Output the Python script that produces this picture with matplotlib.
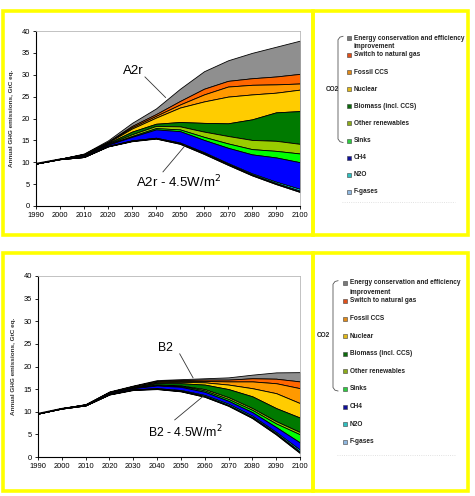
"""
    GHG emission wedges, A2r and B2 scenarios
"""

import matplotlib
matplotlib.use('Agg')
import matplotlib.pyplot as plt
from matplotlib.patches import Rectangle

plt.rcParams['font.family'] = ['Liberation Sans', 'DejaVu Sans']

years = [1990, 2000, 2010, 2020, 2030, 2040, 2050, 2060, 2070, 2080, 2090, 2100]

# A2r - cumulative upper edge of each wedge, GtC eq.
a2r_base = [9.7, 10.7, 11.2, 13.6, 14.8, 15.4, 14.2, 11.9, 9.4, 7.0, 5.0, 3.2]
a2r_fgas = [9.7, 10.7, 11.2, 13.65, 14.9, 15.5, 14.35, 12.1, 9.6, 7.2, 5.25, 3.5]
a2r_n2o = [9.7, 10.7, 11.2, 13.7, 15.0, 15.6, 14.5, 12.3, 9.8, 7.45, 5.55, 3.9]
a2r_ch4 = [9.7, 10.75, 11.5, 14.0, 15.8, 17.5, 17.1, 15.1, 13.3, 11.8, 11.1, 10.0]
a2r_sinks = [9.7, 10.75, 11.55, 14.1, 16.0, 17.8, 17.5, 15.8, 14.3, 13.0, 12.6, 12.0]
a2r_renew = [9.7, 10.75, 11.6, 14.2, 16.4, 18.3, 18.2, 17.0, 16.0, 15.1, 14.9, 14.2]
a2r_bio = [9.7, 10.8, 11.7, 14.35, 17.0, 18.8, 19.2, 19.0, 18.9, 19.8, 21.4, 21.7]
a2r_nuc = [9.7, 10.8, 11.8, 14.5, 17.7, 20.2, 22.5, 23.9, 25.0, 25.5, 25.9, 26.6]
a2r_ccs = [9.7, 10.8, 11.85, 14.6, 18.0, 20.6, 23.2, 25.5, 27.3, 27.7, 27.8, 28.0]
a2r_gas = [9.7, 10.8, 11.9, 14.7, 18.3, 21.0, 24.0, 26.8, 28.6, 29.2, 29.6, 30.2]
a2r_top = [9.7, 10.8, 12.0, 15.0, 19.0, 22.3, 26.8, 30.8, 33.3, 35.0, 36.4, 37.8]

# B2
b2_base = [9.6, 10.7, 11.4, 13.8, 14.8, 15.0, 14.5, 13.3, 11.3, 8.6, 5.0, 0.9]
b2_fgas = [9.6, 10.7, 11.4, 13.85, 14.9, 15.1, 14.6, 13.45, 11.45, 8.8, 5.2, 1.2]
b2_n2o = [9.6, 10.7, 11.4, 13.9, 14.95, 15.2, 14.8, 13.7, 11.75, 9.1, 5.5, 1.6]
b2_ch4 = [9.6, 10.75, 11.5, 14.1, 15.2, 15.8, 15.5, 14.4, 12.4, 9.9, 6.6, 3.2]
b2_sinks = [9.6, 10.75, 11.5, 14.15, 15.25, 15.9, 15.7, 14.7, 12.8, 10.4, 7.4, 5.0]
b2_renew = [9.6, 10.75, 11.55, 14.2, 15.3, 16.0, 15.8, 15.0, 13.2, 10.8, 7.9, 5.5]
b2_bio = [9.6, 10.8, 11.6, 14.25, 15.4, 16.3, 16.3, 16.0, 15.0, 13.4, 10.8, 8.7]
b2_nuc = [9.6, 10.8, 11.6, 14.3, 15.55, 16.5, 16.6, 16.5, 16.0, 15.2, 14.1, 11.9]
b2_ccs = [9.6, 10.8, 11.65, 14.35, 15.65, 16.7, 16.8, 16.8, 16.7, 16.7, 16.3, 15.2]
b2_gas = [9.6, 10.8, 11.65, 14.4, 15.7, 16.8, 17.0, 17.1, 17.1, 17.4, 17.3, 16.7]
b2_top = [9.6, 10.8, 11.7, 14.5, 15.8, 17.0, 17.2, 17.4, 17.6, 18.2, 18.7, 18.75]

legend_labels = ['Energy conservation and efficiency', 'Switch to natural gas', 'Fossil CCS',
                 'Nuclear', 'Biomass (incl. CCS)', 'Other renewables', 'Sinks',
                 'CH4', 'N2O', 'F-gases']
fill_colors = ['#8f8f8f', '#ff6600', '#ff9900', '#ffcc00', '#007a00', '#99cc00', '#00ff00',
               '#0000ff', '#00ffff', '#99ccff']
legend_colors = ['#7a7a7a', '#e0501a', '#e08a1a', '#e0b81a', '#0b6b0b', '#8cab1a', '#2ecc40',
                 '#10109a', '#30c0c0', '#90b8e0']

fig = plt.figure(figsize=(4.75, 4.96), dpi=100)

# background layer in pixel coordinates (frames + legend)
bg = fig.add_axes([0, 0, 1, 1])
bg.set_xlim(0, 475)
bg.set_ylim(496, 0)
bg.axis('off')

for (x0, y0, x1, y1) in [(3, 11, 313, 235), (313, 11, 468, 235),
                         (3, 253, 313, 491), (313, 253, 468, 491)]:
    bg.add_patch(Rectangle((x0, y0), x1 - x0, y1 - y0, fill=False,
                           edgecolor='#ffff00', lw=2.6))


def legend_block(mx, y_first, y_second, step, co2_x, brace_x, dots_y):
    ys = [y_first] + [y_second + i * step for i in range(len(legend_labels) - 1)]
    for lab, col, y in zip(legend_labels, legend_colors, ys):
        bg.add_patch(Rectangle((mx - 2, y - 2), 4, 4, facecolor=col,
                               edgecolor='#404040', lw=0.4))
        bg.text(mx + 4.5, y, lab, fontsize=4.7, fontweight='bold', color='#222222',
                va='center', ha='left')
    bg.text(mx + 4.5, (y_first + y_second) / 2 + 0.3, 'improvement', fontsize=4.7,
            fontweight='bold', color='#222222', va='center', ha='left')
    top, bot = ys[0] - 2, ys[6] + 2
    bg.plot([brace_x + 5, brace_x + 2, brace_x, brace_x, brace_x + 2, brace_x + 5],
            [top, top + 0.8, top + 3.5, bot - 3.5, bot - 0.8, bot],
            color='#555555', lw=0.6)
    bg.text(co2_x, (top + bot) / 2, 'CO2', fontsize=4.7, fontweight='bold',
            color='#222222', va='center', ha='left')
    bg.plot([brace_x + 4, 455], [dots_y, dots_y], color='#d8d8d8', lw=0.6, ls=':')


legend_block(349, 38.3, 55, 17.1, 326, 338, 202)
legend_block(345, 282.7, 301, 17.6, 317, 333, 455)


def wedge_chart(rect, bounds, labels, fs):
    ax = fig.add_axes(rect)
    layers = bounds[::-1]  # from top edge down
    for i in range(len(layers) - 1):
        ax.fill_between(years, layers[i + 1], layers[i], facecolor=fill_colors[i],
                        edgecolor='black', lw=0.6)
    ax.plot(years, bounds[0], color='black', lw=1.0)
    ax.set_xlim(1990, 2100)
    ax.set_ylim(0, 40)
    ax.set_xticks(years)
    ax.set_yticks(range(0, 41, 5))
    ax.tick_params(labelsize=5.4, length=2.5, width=0.6, pad=2, direction='out')
    for s in ['left', 'bottom']:
        ax.spines[s].set_linewidth(0.8)
    for s in ['top', 'right']:
        ax.spines[s].set_color('#b8b8b8')
        ax.spines[s].set_linewidth(0.6)
    ax.set_ylabel('Annual GHG emissions, GtC eq.', fontsize=4.6, fontweight='bold',
                  color='#333333', labelpad=5)
    for txt, txt_pos, line_from, line_to in labels:
        ax.plot([line_from[0], line_to[0]], [line_from[1], line_to[1]],
                color='#333333', lw=0.6)
        ax.text(txt_pos[0], txt_pos[1], txt, fontsize=fs, ha='center', va='center')
    return ax


def px_rect(left, top, right, bottom):
    return [left / 475, 1 - bottom / 496, (right - left) / 475, (bottom - top) / 496]


a2r_bounds = [a2r_base, a2r_fgas, a2r_n2o, a2r_ch4, a2r_sinks, a2r_renew,
              a2r_bio, a2r_nuc, a2r_ccs, a2r_gas, a2r_top]
b2_bounds = [b2_base, b2_fgas, b2_n2o, b2_ch4, b2_sinks, b2_renew,
             b2_bio, b2_nuc, b2_ccs, b2_gas, b2_top]

wedge_chart(px_rect(36, 31, 300, 206), a2r_bounds,
            [('A2r', (2030.4, 30.9), (2035.4, 29.5), (2044.0, 24.8)),
             ('A2r - 4.5W/m$^2$', (2049.2, 5.4), (2042.9, 7.8), (2052.1, 13.8))], 9.5)
wedge_chart(px_rect(38, 276, 300, 457), b2_bounds,
            [('B2', (2043.6, 24.1), (2049.5, 22.8), (2055.1, 17.5)),
             ('B2 - 4.5W/m$^2$', (2051.9, 5.6), (2047.4, 8.2), (2059.3, 13.4))], 8.8)

fig.savefig('out.png', dpi=100)
